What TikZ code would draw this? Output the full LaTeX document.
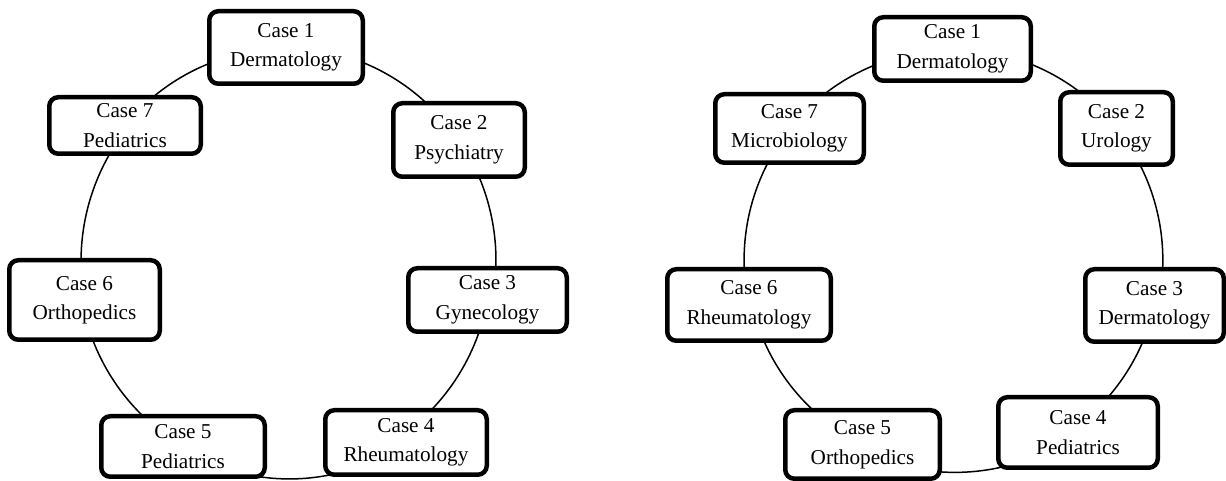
\documentclass[tikz,border=0pt]{standalone}
\usepackage{fontspec}
\setmainfont{Liberation Serif}
\usetikzlibrary{backgrounds}
\tikzset{
  casebox/.style={draw=black, line width=4.5pt, rounded corners=9pt, fill=white,
    align=center, inner sep=0pt, font=\fontsize{21.2}{29.5}\selectfont},
  conn/.style={draw=black, line width=1.5pt},
}
\begin{document}
\begin{tikzpicture}[x=1pt, y=1pt]
\useasboundingbox (0,0) rectangle (1226,481);
% left cycle
\node[casebox, minimum width=153.5, minimum height=72.5] (l1) at (286,433.5) {Case 1\\Dermatology};
\node[casebox, minimum width=131.5, minimum height=73.5] (l2) at (459,341) {Case 2\\Psychiatry};
\node[casebox, minimum width=158.5, minimum height=63.5] (l3) at (487.5,181) {Case 3\\Gynecology};
\node[casebox, minimum width=161.5, minimum height=64.5] (l4) at (406,38.5) {Case 4\\Rheumatology};
\node[casebox, minimum width=163.5, minimum height=60.5] (l5) at (183,34.5) {Case 5\\Pediatrics};
\node[casebox, minimum width=150.5, minimum height=79.5] (l6) at (84.5,181) {Case 6\\Orthopedics};
\node[casebox, minimum width=151.5, minimum height=56.5] (l7) at (125,355.5) {Case 7\\Pediatrics};
% right cycle
\node[casebox, minimum width=156.5, minimum height=63.5] (r1) at (952.5,432) {Case 1\\Dermatology};
\node[casebox, minimum width=112.5, minimum height=72.5] (r2) at (1116.5,352.5) {Case 2\\Urology};
\node[casebox, minimum width=138.5, minimum height=72.5] (r3) at (1154.5,175.5) {Case 3\\Dermatology};
\node[casebox, minimum width=159.5, minimum height=70.5] (r4) at (1078,48.5) {Case 4\\Pediatrics};
\node[casebox, minimum width=154.5, minimum height=68.5] (r5) at (862.5,36.5) {Case 5\\Orthopedics};
\node[casebox, minimum width=163.5, minimum height=71.5] (r6) at (749,176) {Case 6\\Rheumatology};
\node[casebox, minimum width=148.5, minimum height=68.5] (r7) at (789.5,352.5) {Case 7\\Microbiology};
\begin{pgfonlayer}{background}
\fill[white] (0,0) rectangle (1226,481);
\draw[conn] (l1.center) arc[start angle=90, end angle=34.7, x radius=208, y radius=212];
\draw[conn] (l2.center) arc[start angle=34.7, end angle=-10.5, x radius=208, y radius=212];
\draw[conn] (l3.center) arc[start angle=-10.5, end angle=-55.9, x radius=208, y radius=212];
\draw[conn] (l4.center) arc[start angle=-55.9, end angle=-119.8, x radius=208, y radius=212];
\draw[conn] (l5.center) arc[start angle=-119.8, end angle=-169.5, x radius=208, y radius=212];
\draw[conn] (l6.center) arc[start angle=-169.5, end angle=-219.7, x radius=208, y radius=212];
\draw[conn] (l7.center) arc[start angle=140.3, end angle=90, x radius=208, y radius=212];
\draw[conn] (r1.center) arc[start angle=90, end angle=38.8, radius=210];
\draw[conn] (r2.center) arc[start angle=38.8, end angle=-12.7, radius=210];
\draw[conn] (r3.center) arc[start angle=-12.7, end angle=-54.1, radius=210];
\draw[conn] (r4.center) arc[start angle=-54.1, end angle=-116.5, radius=210];
\draw[conn] (r5.center) arc[start angle=-116.5, end angle=-167.6, radius=210];
\draw[conn] (r6.center) arc[start angle=-167.6, end angle=-218.7, radius=210];
\draw[conn] (r7.center) arc[start angle=141.3, end angle=90, radius=210];
\end{pgfonlayer}
\end{tikzpicture}
\end{document}
